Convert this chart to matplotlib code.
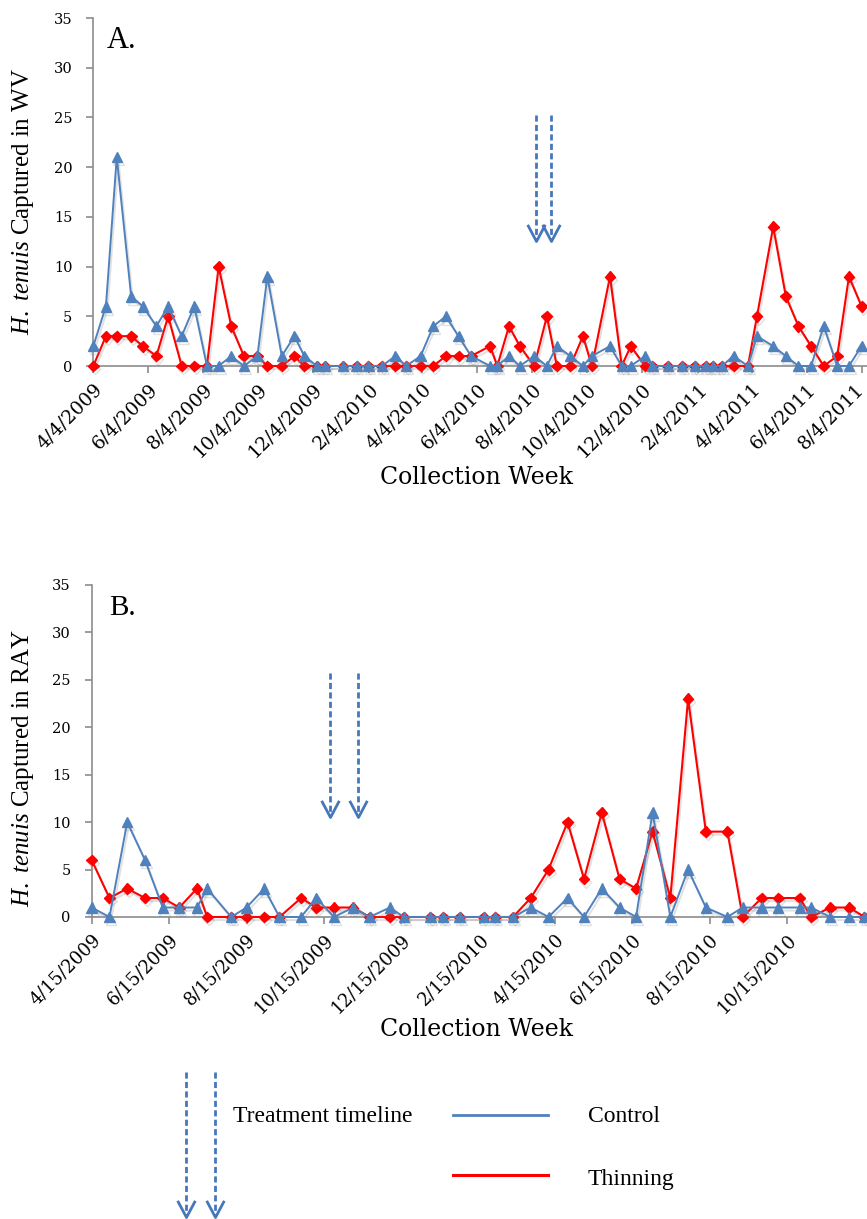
#!/usr/bin/env python3
"""
H. tenuis captures per collection week, WV (A) and RAY (B) sites
"""

import pandas as pd
import matplotlib
matplotlib.use('Agg')
import matplotlib.pyplot as plt
import matplotlib.patheffects as pe
import matplotlib.transforms as mtrans
from matplotlib.path import Path
from matplotlib.markers import MarkerStyle

# ---- data ----
wv_dates = ['2009-04-04', '2009-04-18', '2009-04-30', '2009-05-16', '2009-05-29',
            '2009-06-13', '2009-06-26', '2009-07-11', '2009-07-25', '2009-08-08',
            '2009-08-21', '2009-09-04', '2009-09-18', '2009-10-03', '2009-10-14',
            '2009-10-30', '2009-11-13', '2009-11-24', '2009-12-08', '2009-12-17',
            '2010-01-06', '2010-01-21', '2010-02-03', '2010-02-18', '2010-03-05',
            '2010-03-17', '2010-04-02', '2010-04-16', '2010-04-30', '2010-05-14',
            '2010-05-28', '2010-06-18', '2010-06-26', '2010-07-09', '2010-07-21',
            '2010-08-06', '2010-08-20', '2010-08-31', '2010-09-15', '2010-09-29',
            '2010-10-09', '2010-10-29', '2010-11-11', '2010-11-21', '2010-12-07',
            '2010-12-15', '2011-01-01', '2011-01-17', '2011-01-31', '2011-02-12',
            '2011-02-20', '2011-03-02', '2011-03-15', '2011-03-31', '2011-04-10',
            '2011-04-28', '2011-05-12', '2011-05-26', '2011-06-09', '2011-06-23',
            '2011-07-08', '2011-07-21', '2011-08-04']
wv_control = [2, 6, 21, 7, 6, 4, 6, 3, 6, 0,
              0, 1, 0, 1, 9, 1, 3, 1, 0, 0,
              0, 0, 0, 0, 1, 0, 1, 4, 5, 3,
              1, 0, 0, 1, 0, 1, 0, 2, 1, 0,
              1, 2, 0, 0, 1, 0, 0, 0, 0, 0,
              0, 0, 1, 0, 3, 2, 1, 0, 0, 4,
              0, 0, 2]
wv_thinning = [0, 3, 3, 3, 2, 1, 5, 0, 0, 0,
               10, 4, 1, 1, 0, 0, 1, 0, 0, 0,
               0, 0, 0, 0, 0, 0, 0, 0, 1, 1,
               1, 2, 0, 4, 2, 0, 5, 0, 0, 3,
               0, 9, 0, 2, 0, 0, 0, 0, 0, 0,
               0, 0, 0, 0, 5, 14, 7, 4, 2, 0,
               1, 9, 6]
wv_ticks = ['4/4/2009', '6/4/2009', '8/4/2009', '10/4/2009', '12/4/2009',
            '2/4/2010', '4/4/2010', '6/4/2010', '8/4/2010', '10/4/2010',
            '12/4/2010', '2/4/2011', '4/4/2011', '6/4/2011', '8/4/2011']
wv_treatment = ['2010-08-08', '2010-08-25']

ray_dates = ['2009-04-15', '2009-04-29', '2009-05-13', '2009-05-27', '2009-06-10',
             '2009-06-23', '2009-07-07', '2009-07-15', '2009-08-03', '2009-08-15',
             '2009-08-29', '2009-09-10', '2009-09-27', '2009-10-09', '2009-10-23',
             '2009-11-07', '2009-11-20', '2009-12-06', '2009-12-17', '2010-01-07',
             '2010-01-17', '2010-01-30', '2010-02-18', '2010-02-27', '2010-03-13',
             '2010-03-27', '2010-04-10', '2010-04-25', '2010-05-08', '2010-05-22',
             '2010-06-05', '2010-06-18', '2010-07-01', '2010-07-15', '2010-07-29',
             '2010-08-12', '2010-08-29', '2010-09-10', '2010-09-25', '2010-10-08',
             '2010-10-25', '2010-11-03', '2010-11-18', '2010-12-03', '2010-12-15']
ray_control = [1, 0, 10, 6, 1, 1, 1, 3, 0, 1,
               3, 0, 0, 2, 0, 1, 0, 1, 0, 0,
               0, 0, 0, 0, 0, 1, 0, 2, 0, 3,
               1, 0, 11, 0, 5, 1, 0, 1, 1, 1,
               1, 1, 0, 0, 0]
ray_thinning = [6, 2, 3, 2, 2, 1, 3, 0, 0, 0,
                0, 0, 2, 1, 1, 1, 0, 0, 0, 0,
                0, 0, 0, 0, 0, 2, 5, 10, 4, 11,
                4, 3, 9, 2, 23, 9, 9, 0, 2, 2,
                2, 0, 1, 1, 0]
ray_ticks = ['4/15/2009', '6/15/2009', '8/15/2009', '10/15/2009', '12/15/2009',
             '2/15/2010', '4/15/2010', '6/15/2010', '8/15/2010', '10/15/2010']
ray_treatment = ['2009-10-20', '2009-11-11']

# ---- style ----
BLUE = '#4f81bd'
RED = '#ff0000'
ARROW = '#4677ba'
AXIS = '#8c8c8c'
SERIF = 'Liberation Serif'
TICKFONT = 'DejaVu Serif'

plt.rcParams['mathtext.fontset'] = 'custom'
plt.rcParams['mathtext.it'] = 'Liberation Serif:italic'
plt.rcParams['mathtext.rm'] = 'Liberation Serif'

W, H = 867, 1219
fig = plt.figure(figsize=(W / 100, H / 100), dpi=100)

# overlay in pixel units for the free-standing decorations
ov = fig.add_axes([0, 0, 1, 1])
ov.set_xlim(0, W)
ov.set_ylim(H, 0)
ov.axis('off')

vee = MarkerStyle(Path([(-9, 17), (0, 0), (9, 17)],
                       [Path.MOVETO, Path.LINETO, Path.LINETO]),
                  fillstyle='none')
shadow = [pe.SimpleLineShadow(offset=(1.2, -2.2), shadow_color='#7a7a7a',
                              alpha=0.22), pe.Normal()]


def down_arrow(ax, x, y_top, y_tip):
    ax.plot([x, x], [y_top, y_tip], color=ARROW, lw=2, ls=(0, (2.2, 1.2)),
            clip_on=False, zorder=5)
    ax.plot([x], [y_tip], marker=vee, ms=24, mec=ARROW, mew=2,
            ls='none', clip_on=False, zorder=5)


def panel(box, dates, control, thinning, ticks, tick_fmt_start, xmax,
          tick_size, treatment, arrow_top, arrow_tip):
    l, t, r, b = box
    ax = fig.add_axes([l / W, 1 - b / H, (r - l) / W, (b - t) / H])
    x = pd.to_datetime(dates)
    ax.plot(x, thinning, color=RED, lw=1.5, marker='D', ms=5.5, mec=RED,
            clip_on=False, zorder=3, path_effects=shadow)
    ax.plot(x, control, color=BLUE, lw=1.4, marker='^', ms=7.5, mec=BLUE,
            clip_on=False, zorder=4, path_effects=shadow)

    start = pd.Timestamp(tick_fmt_start)
    ax.set_xlim(start, start + pd.Timedelta(days=xmax))
    ax.set_ylim(0, 35)
    ax.set_yticks(range(0, 36, 5))

    tick_pos = pd.to_datetime(ticks, format='%m/%d/%Y')
    ax.set_xticks(tick_pos)
    ax.set_xticklabels(ticks, rotation=45, ha='right',
                       rotation_mode='anchor', fontsize=tick_size,
                       family=TICKFONT)
    for lab in ax.get_yticklabels():
        lab.set_family(TICKFONT)
        lab.set_fontsize(10.5)

    for side in ['top', 'right']:
        ax.spines[side].set_visible(False)
    for side in ['left', 'bottom']:
        ax.spines[side].set_color(AXIS)
        ax.spines[side].set_linewidth(1.2)
    ax.tick_params(axis='both', direction='out', length=5, width=1.2,
                   color=AXIS)
    ax.tick_params(axis='x', pad=5)
    ax.tick_params(axis='y', pad=10)
    ax.patch.set_alpha(0)

    for d in treatment:
        down_arrow(ax, pd.Timestamp(d), arrow_top, arrow_tip)
    return ax


ax_a = panel((93.3, 18, 867, 366), wv_dates, wv_control, wv_thinning,
             wv_ticks, '2009-04-04', 858, 13.5, wv_treatment, 25.2, 12.6)
ax_b = panel((91.7, 585, 867, 917), ray_dates, ray_control, ray_thinning,
             ray_ticks, '2009-04-15', 611, 13, ray_treatment, 25.7, 10.5)

# the last date label of panel A sits right on the image edge: nudge it in
last = ax_a.get_xticklabels()[-1]
last.set_transform(last.get_transform() +
                   mtrans.ScaledTranslation(-7 / 100, 0, fig.dpi_scale_trans))

# axis titles and panel letters
ov.text(476, 477, 'Collection Week', ha='center', va='center',
        fontsize=17, family='DejaVu Serif')
ov.text(476, 1030, 'Collection Week', ha='center', va='center',
        fontsize=17, family='DejaVu Serif')
ov.text(23, 201, r'$\mathit{H.\ tenuis}$ Captured in WV', rotation=90,
        ha='center', va='center', fontsize=18, family=SERIF)
ov.text(23, 768, r'$\mathit{H.\ tenuis}$ Captured in RAY', rotation=90,
        ha='center', va='center', fontsize=18, family=SERIF)
ov.text(107, 48, 'A.', fontsize=22, family=SERIF)
ov.text(109, 615, 'B.', fontsize=21, family=SERIF)

# legend block
down_arrow(ov, 186, 1072, 1217)
down_arrow(ov, 215, 1072, 1217)
ov.text(233, 1116, 'Treatment timeline', va='center', fontsize=17,
        family=SERIF)
ov.plot([453, 548], [1115, 1115], color=BLUE, lw=2)
ov.plot([453, 548], [1175, 1175], color=RED, lw=2.2)
ov.text(588, 1116, 'Control', va='center', fontsize=17, family=SERIF)
ov.text(588, 1179, 'Thinning', va='center', fontsize=17, family=SERIF)

fig.savefig('out.png', dpi=100)
